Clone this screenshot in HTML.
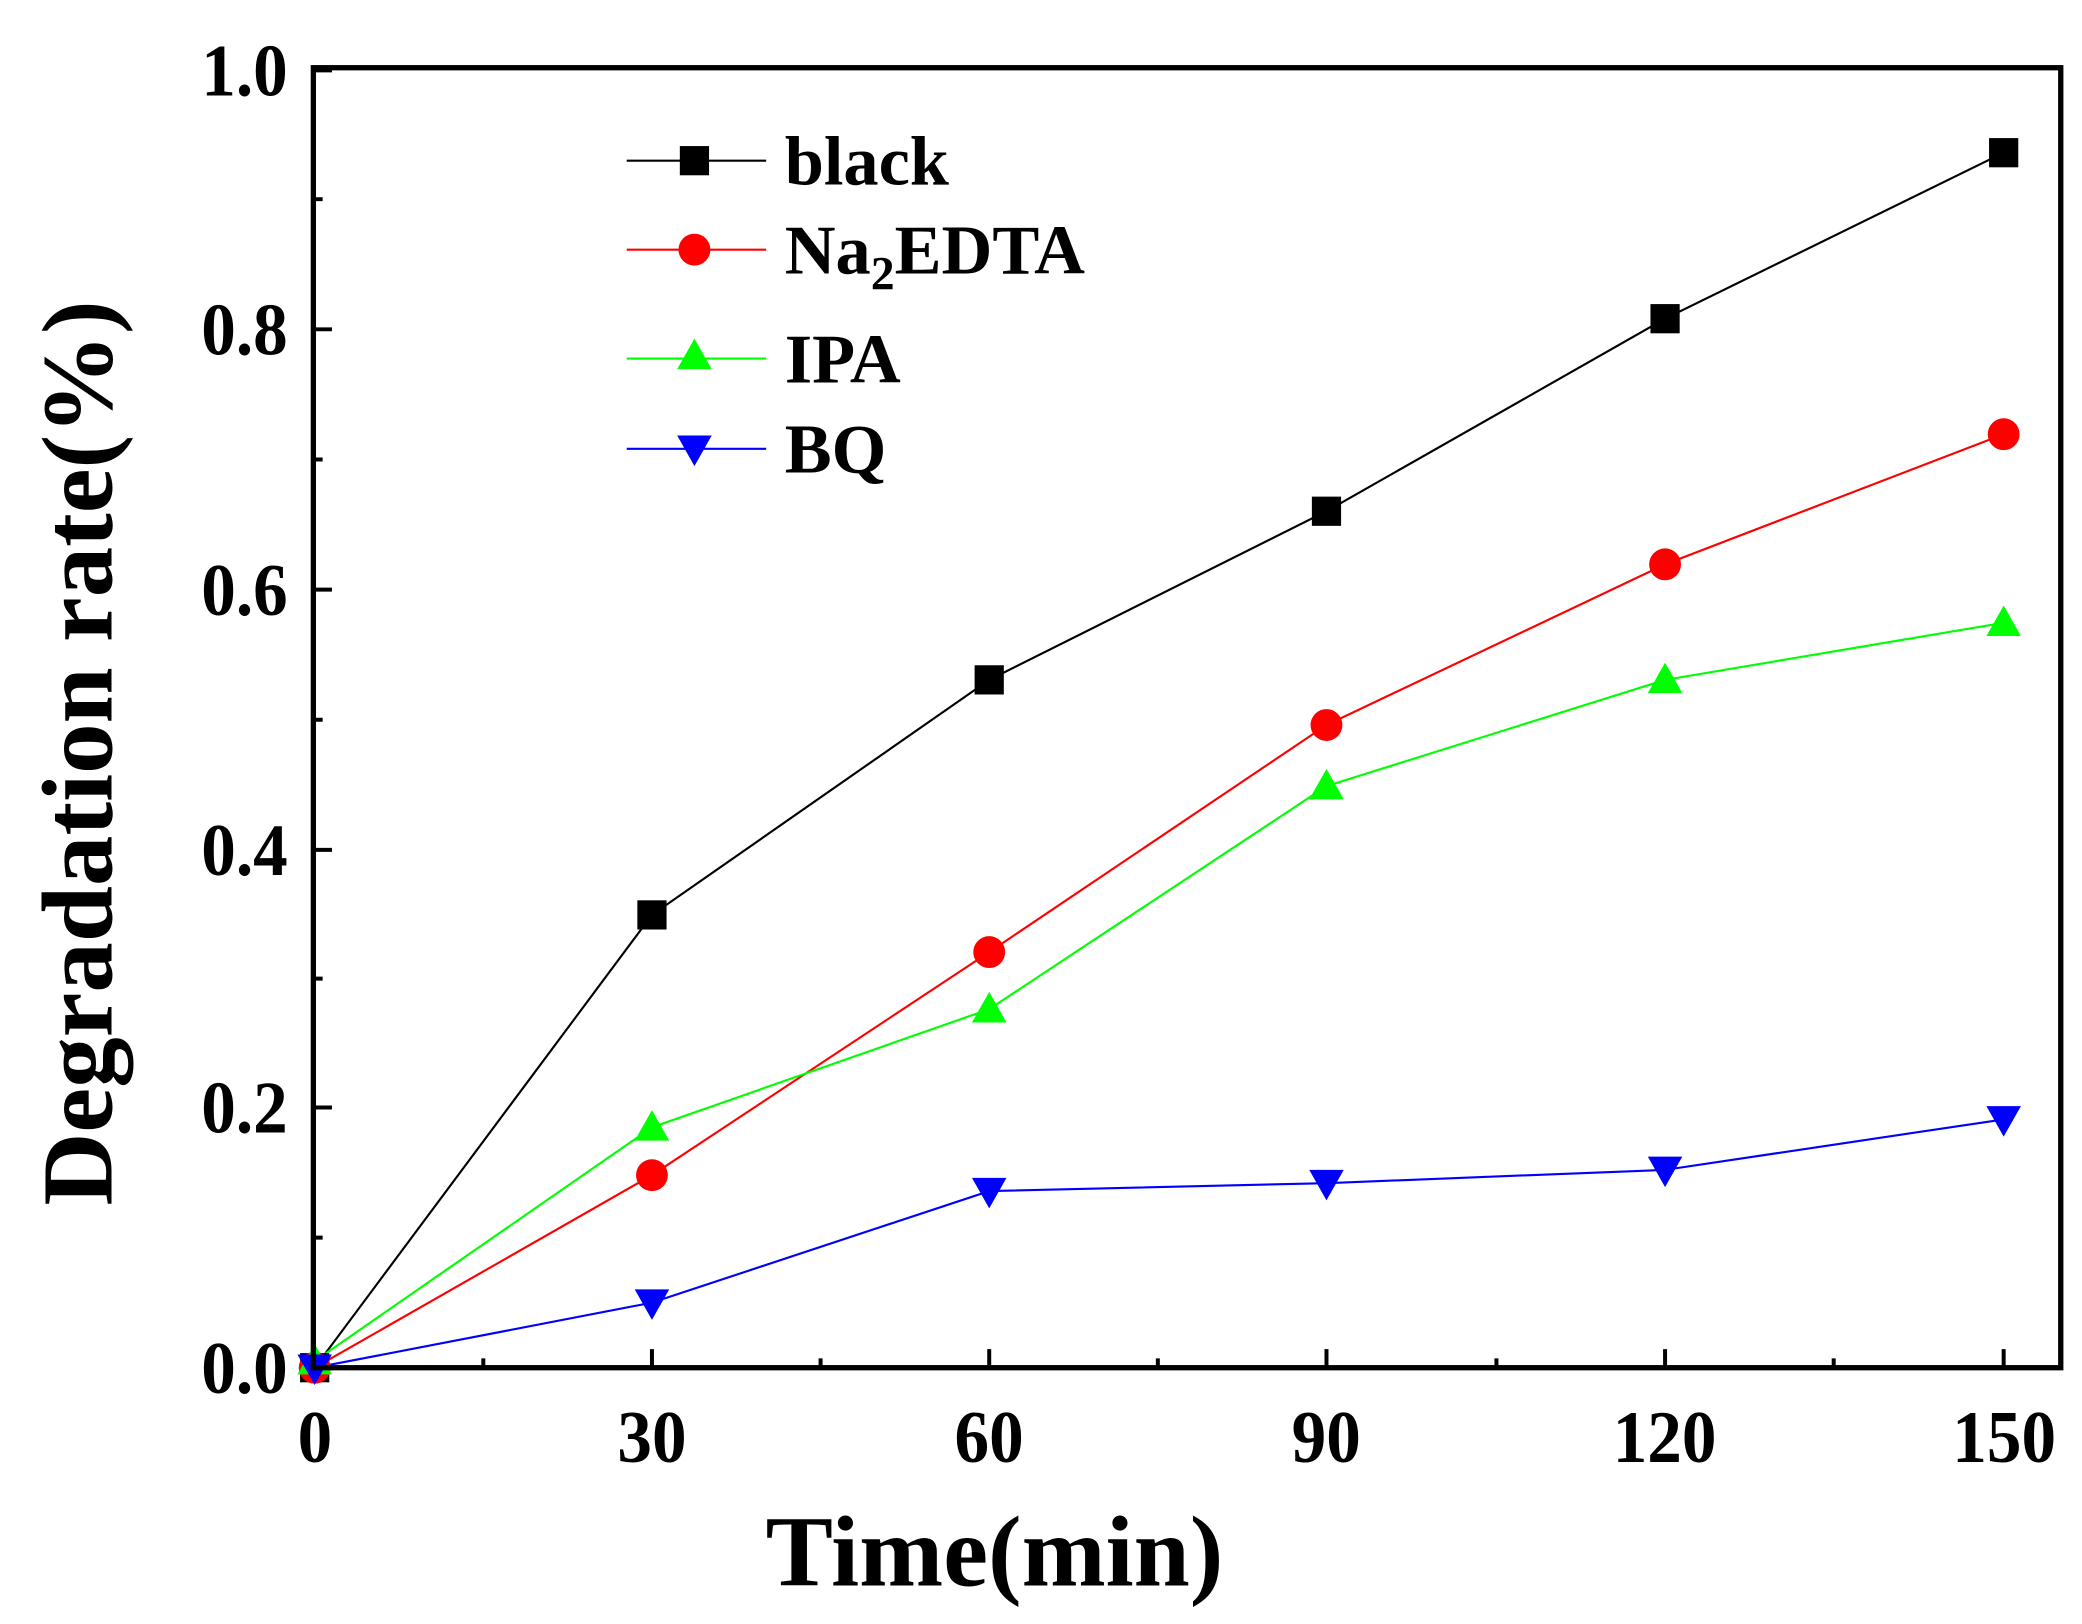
<!DOCTYPE html>
<html><head><style>html,body{margin:0;padding:0;background:#fff}svg{display:block}</style></head>
<body>
<svg width="2082" height="1624" viewBox="0 0 1568 1223" preserveAspectRatio="none" xmlns="http://www.w3.org/2000/svg" font-family="Liberation Serif, serif" font-weight="bold">
<defs>
<rect id="sq" x="-11" y="-11" width="22" height="22" fill="#000"/>
<circle id="ci" r="12" fill="#f00"/>
<polygon id="tu" points="0,-13 13,10 -13,10" fill="#0f0"/>
<polygon id="td" points="0,13 13,-10 -13,-10" fill="#00f"/>
</defs>
<g stroke-width="1.6" fill="none">
<polyline stroke="#000" points="237,1030 491,689 745,512 999,385 1254,240 1509,115"/>
<polyline stroke="#f00" points="237,1030 491,885 745,717 999,546 1254,425 1509,327"/>
<polyline stroke="#0f0" points="237,1025 491,849 745,760 999,592 1254,512 1509,469"/>
<polyline stroke="#00f" points="237,1030 491,981 745,897 999,891 1254,881 1509,843"/>
</g>
<use href="#sq" x="237" y="1030"/><use href="#sq" x="491" y="689"/><use href="#sq" x="745" y="512"/><use href="#sq" x="999" y="385"/><use href="#sq" x="1254" y="240"/><use href="#sq" x="1509" y="115"/>
<use href="#ci" x="237" y="1030"/><use href="#ci" x="491" y="885"/><use href="#ci" x="745" y="717"/><use href="#ci" x="999" y="546"/><use href="#ci" x="1254" y="425"/><use href="#ci" x="1509" y="327"/>
<use href="#tu" x="237" y="1025"/><use href="#tu" x="491" y="849"/><use href="#tu" x="745" y="760"/><use href="#tu" x="999" y="592"/><use href="#tu" x="1254" y="512"/><use href="#tu" x="1509" y="469"/>
<use href="#td" x="237" y="1030"/><use href="#td" x="491" y="981"/><use href="#td" x="745" y="897"/><use href="#td" x="999" y="891"/><use href="#td" x="1254" y="881"/><use href="#td" x="1509" y="843"/>
<rect x="236" y="51" width="1316" height="979" fill="none" stroke="#000" stroke-width="4"/>
<g stroke="#000" stroke-width="3">
<path d="M236,1030h14M236,834h14M236,640h14M236,444h14M236,248h14M236,53h14"/>
<path d="M236,932h7M236,737h7M236,542h7M236,346h7M236,150h7"/>
<path d="M491,1030v-14M745,1030v-14M999,1030v-14M1254,1030v-14M1509,1030v-14"/>
<path d="M364,1030v-7M618,1030v-7M872,1030v-7M1127,1030v-7M1381,1030v-7"/>
</g>
<g font-size="56" text-anchor="end" transform="scale(0.93,1)">
<text x="233" y="1049">0.0</text><text x="233" y="853">0.2</text><text x="233" y="659">0.4</text><text x="233" y="463">0.6</text><text x="233" y="267">0.8</text><text x="233" y="72">1.0</text>
</g>
<g font-size="56" text-anchor="middle" transform="scale(0.93,1)">
<text x="255" y="1101">0</text><text x="528" y="1101">30</text><text x="801" y="1101">60</text><text x="1074" y="1101">90</text><text x="1348" y="1101">120</text><text x="1623" y="1101">150</text>
</g>
<text x="749" y="1194" font-size="76" text-anchor="middle">Time(min)</text>
<text transform="translate(84,567) rotate(-90)" font-size="76" text-anchor="middle">Degradation rate(%)</text>
<g stroke-width="1.6">
<line x1="472" y1="121" x2="577" y2="121" stroke="#000"/><use href="#sq" x="523" y="121"/>
<line x1="472" y1="188" x2="577" y2="188" stroke="#f00"/><use href="#ci" x="523" y="188"/>
<line x1="472" y1="270" x2="577" y2="270" stroke="#0f0"/><use href="#tu" x="523" y="268"/>
<line x1="472" y1="338" x2="577" y2="338" stroke="#00f"/><use href="#td" x="523" y="338"/>
</g>
<g font-size="53">
<text x="591" y="139">black</text>
<text x="591" y="206">Na<tspan font-size="36" dy="12">2</tspan><tspan dy="-12">EDTA</tspan></text>
<text x="591" y="288">IPA</text>
<text x="591" y="356">BQ</text>
</g>
</svg>
</body></html>
